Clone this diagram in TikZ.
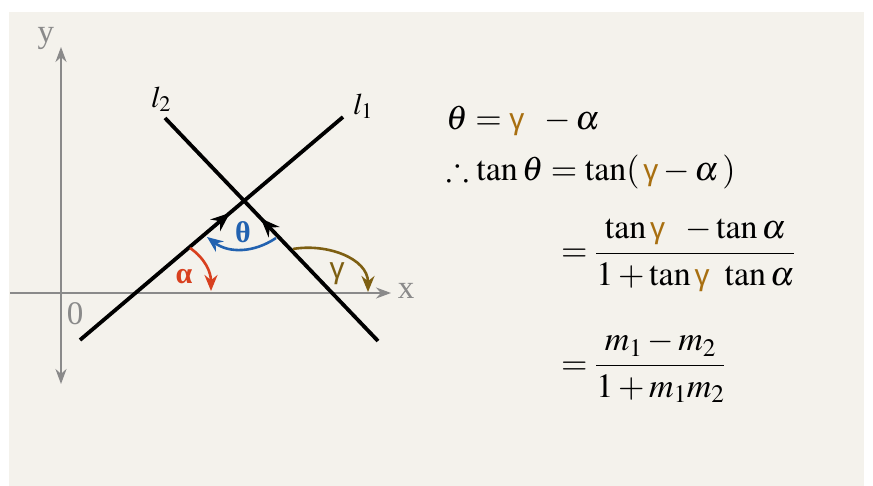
\documentclass[tikz,border=0pt]{standalone}
\usepackage{amsmath,amssymb}
\usepackage{mathptmx}
\usepackage{fontspec}
\setmainfont{Liberation Serif}
\newfontfamily\gamfont{Liberation Sans}
\usepackage{xcolor}
\usetikzlibrary{arrows.meta,decorations.markings}

\definecolor{bgcol}{HTML}{F4F2EC}
\definecolor{axcol}{HTML}{8A8A8A}
\definecolor{alphacol}{HTML}{D8401F}
\definecolor{thetacol}{HTML}{2262B0}
\definecolor{gamcol}{HTML}{7D5F12}
\definecolor{gameq}{HTML}{A86F10}

\newcommand{\gam}{\mathord{\mbox{\gamfont\fontsize{30}{30}\selectfont\color{gameq}γ}}}

\begin{document}
\begin{tikzpicture}[
    x=1pt, y=-1pt,
    axis/.style={draw=axcol, line width=2pt},
    axlabel/.style={text=axcol, font=\fontsize{33}{36}\selectfont, inner sep=0pt},
    lline/.style={line width=3.8pt, black},
    midtip/.style={postaction={decorate}, decoration={markings,
        mark=at position #1 with {\arrow{Stealth[length=19pt,width=15pt]}}}},
    anglearc/.style={line width=2.6pt, -{Stealth[length=16pt,width=13pt]}},
    anglelab/.style={inner sep=0pt, font=\fontsize{30}{32}\selectfont},
    eq/.style={inner sep=0pt, font=\fontsize{34}{40}\selectfont}
]
\useasboundingbox (0,0) rectangle (873,486);
\fill[bgcol] (9,12) rectangle (864,486);

% axes
\coordinate (xl) at (10,293);
\coordinate (xr) at (391,293);
\coordinate (yb) at (61,384);
\coordinate (yt) at (61,47);
\draw[axis, -{Stealth[length=15pt,width=11pt]}] (xl) -- (xr);
\draw[axis, {Stealth[length=15pt,width=11pt]}-{Stealth[length=15pt,width=11pt]}] (yb) -- (yt);
\node[axlabel] (ylab) at (46,38) {y};
\node[axlabel] (xlab) at (406,291) {x};
\node[axlabel] (olab) at (75,314) {0};

% the two lines
\coordinate (l1s) at (80,340);
\coordinate (l1e) at (343,117);
\coordinate (l2s) at (378,341);
\coordinate (l2e) at (165,118);
\draw[lline, midtip=0.57] (l1s) -- (l1e);
\draw[lline, midtip=0.55] (l2s) -- (l2e);
\node[inner sep=0pt, font=\fontsize{30}{32}\selectfont] (l2lab) at (161,99) {$l_2$};
\node[inner sep=0pt, font=\fontsize{30}{32}\selectfont] (l1lab) at (363,106) {$l_1$};

% angles
\coordinate (a1) at (190,248);
\coordinate (a2) at (211,291);
\coordinate (t1) at (276,238);
\coordinate (t2) at (207,237);
\coordinate (g1) at (293,249);
\coordinate (g2) at (368,292);
\draw[anglearc, alphacol] (a1) to[out=-35, in=90] (a2);
\draw[anglearc, thetacol] (t1) to[out=-146, in=-37] (t2);
\draw[anglearc, gamcol] (g1) to[out=10, in=90] (g2);
\node[anglelab, text=alphacol] (alab) at (184,277) {\bfseries α};
\node[anglelab, text=thetacol] (tlab) at (243,232) {\bfseries θ};
\node[anglelab, text=gamcol] (glab) at (337,274) {\gamfont γ};

% working
\node[eq, anchor=base west] (eqa) at (446,130) {$\theta = \gam\;\; - \alpha$};
\node[eq, anchor=base west] (eqb) at (446,181) {$\therefore \tan\theta = \tan(\,\gam - \alpha\,)$};
\node[eq, anchor=base west] (eqc) at (561,262) {$= \dfrac{\tan\gam\;\; - \tan\alpha}{1+\tan\gam\;\,\tan\alpha}$};
\node[eq, anchor=base west] (eqd) at (561,374) {$= \dfrac{m_1 - m_2}{1 + m_1 m_2}$};
\end{tikzpicture}
\end{document}
